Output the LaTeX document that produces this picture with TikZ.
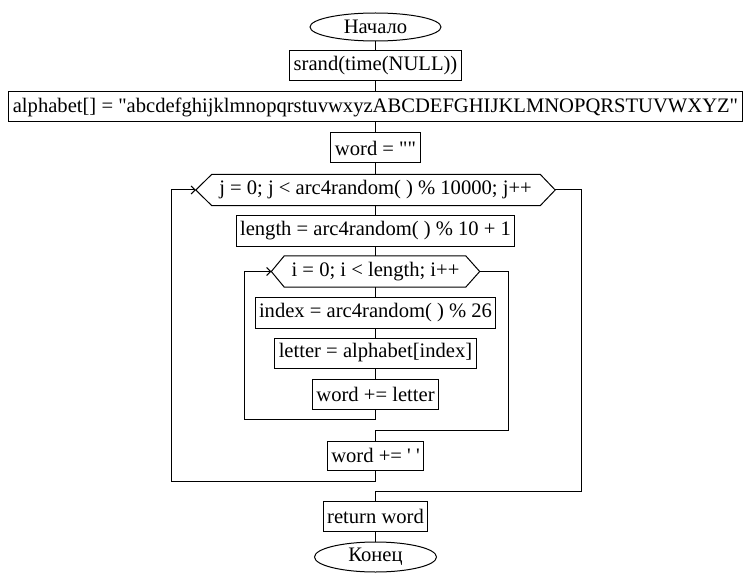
\documentclass[tikz,border=0pt]{standalone}
\usepackage{fontspec}
\setmainfont{Liberation Serif}[Ligatures=TeXOff]
\usetikzlibrary{shapes.geometric,arrows.meta}
\tikzset{
  every node/.style={font=\fontsize{20.6}{24}\selectfont},
  line/.style={draw=black,line width=1pt},
  procbox/.style={line,rectangle,inner xsep=4pt,inner ysep=0pt,minimum height=30pt},
  termbox/.style={line,ellipse,inner sep=0pt},
  hexlabel/.style={rectangle,inner sep=0pt,minimum height=31pt},
  flow/.style={line},
  loopback/.style={line,-{Straight Barb[length=4pt,width=8pt,line width=1pt]}},
}
\begin{document}
\begin{tikzpicture}[x=1pt,y=-1pt]
\useasboundingbox (0,0) rectangle (750,583);
\fill[white] (0,0) rectangle (750,583);

\node[termbox,minimum width=131pt,minimum height=28pt] (start) at (375.5,27) {Начало};
\node[procbox] (srand) at (375.5,66) {srand(time(NULL))};
\node[procbox] (alpha) at (375.5,107) {alphabet[] = "abcdefghijklmnopqrstuvwxyzABCDEFGHIJKLMNOPQRSTUVWXYZ"};
\node[procbox] (winit) at (375.5,148) {word = ""};
\node[hexlabel,minimum width=359pt] (jhex) at (375.5,190) {j = 0; j < arc4random( ) \% 10000; j++};
\node[procbox,minimum height=31pt] (len) at (375.5,230.5) {length = arc4random( ) \% 10 + 1};
\node[hexlabel,minimum width=208pt] (ihex) at (375.5,271.5) {i = 0; i < length; i++};
\node[procbox,minimum height=31pt] (idx) at (375.5,312.5) {index = arc4random( ) \% 26};
\node[procbox] (let) at (375.5,353) {letter = alphabet[index]};
\node[procbox] (wl) at (375.5,394) {word += letter};
\node[procbox,minimum height=29pt] (ws) at (375.5,455.5) {word += ' '};
\node[procbox] (ret) at (375.5,516) {return word};
\node[termbox,minimum width=122pt,minimum height=30pt] (fin) at (375.5,557) {Конец};

% hexagon outlines
\draw[line] ([xshift=16pt]jhex.north west) -- ([xshift=-15pt]jhex.north east) -- (jhex.east)
  -- ([xshift=-15pt]jhex.south east) -- ([xshift=16pt]jhex.south west) -- (jhex.west) -- cycle;
\draw[line] ([xshift=13pt]ihex.north west) -- ([xshift=-14pt]ihex.north east) -- (ihex.east)
  -- ([xshift=-14pt]ihex.south east) -- ([xshift=13pt]ihex.south west) -- (ihex.west) -- cycle;

\coordinate (innerback) at (244,419);
\coordinate (innerexit) at (508,430);
\coordinate (outerback) at (171,481);
\coordinate (outerexit) at (581,491);

\draw[flow] (start) -- (srand);
\draw[flow] (srand) -- (alpha);
\draw[flow] (alpha) -- (winit);
\draw[flow] (winit) -- (jhex);
\draw[flow] (jhex) -- (len);
\draw[flow] (len) -- (ihex);
\draw[flow] (ihex) -- (idx);
\draw[flow] (idx) -- (let);
\draw[flow] (let) -- (wl);
\draw[loopback] (wl.south) |- (innerback) |- (ihex.west);
\draw[flow] (ihex.east) -| (innerexit) -| (ws.north);
\draw[loopback] (ws.south) |- (outerback) |- (jhex.west);
\draw[flow] (jhex.east) -| (outerexit) -| (ret.north);
\draw[flow] (ret) -- (fin);
\end{tikzpicture}
\end{document}
